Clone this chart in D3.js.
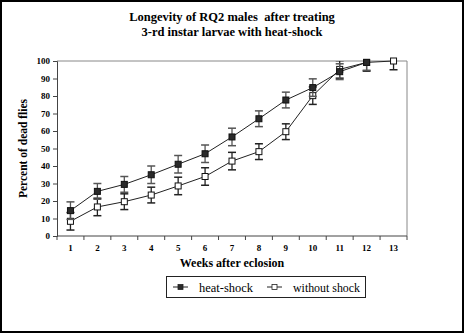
<!DOCTYPE html>
<html>
<head>
<meta charset="utf-8">
<script src="https://cdn.jsdelivr.net/npm/d3@7"></script>
<style>
  body { margin: 0; background: #fff; }
  text { font-family: "Liberation Serif", "Times New Roman", serif; }
</style>
</head>
<body>
<div id="chart"></div>
<script>
var weeks = [1, 2, 3, 4, 5, 6, 7, 8, 9, 10, 11, 12, 13];
var heatShock = [14.5, 25.5, 29.5, 35, 41, 47, 56.6, 67, 77.7, 84.8, 93.9, 99.2];
var heatShockErr = [5, 4.5, 4.5, 5, 5, 5, 5, 4.5, 4.5, 5, 4.5, 4.5];
var withoutShock = [8.4, 16.6, 19.6, 23.4, 28.6, 34, 42.8, 48.2, 59.6, 80.2, 95.2, 99.2, 100];
var withoutShockErr = [5, 5, 4.5, 4.5, 5, 5, 5, 4.5, 4.5, 5, 5, 5, 5];
var yTicks = [0, 10, 20, 30, 40, 50, 60, 70, 80, 90, 100];

var width = 464, height = 333;
var margin = {left: 57, top: 61, right: 57, bottom: 97};

var svg = d3.select("#chart").append("svg")
    .attr("width", width).attr("height", height);

// outer frame
svg.append("rect")
    .attr("x", 1).attr("y", 1).attr("width", width - 2).attr("height", height - 2)
    .attr("fill", "#fff").attr("stroke", "#000").attr("stroke-width", 2);

var x = d3.scaleBand().domain(weeks).range([margin.left, width - margin.right]);
var y = d3.scaleLinear().domain([0, 100]).range([height - margin.bottom, margin.top]);

function cx(d, i) { return x(weeks[i]) + x.bandwidth() / 2; }

// title
var title = ["Longevity of RQ2 males  after treating", "3-rd instar larvae with heat-shock"];
svg.selectAll(".title").data(title).enter().append("text")
    .attr("x", 232).attr("y", function(d, i) { return 21 + i * 15; })
    .attr("text-anchor", "middle")
    .attr("font-size", "12.5px").attr("font-weight", "bold")
    .style("white-space", "pre")
    .text(function(d) { return d; });

// plot frame top/right
svg.append("path")
    .attr("d", "M" + margin.left + "," + y(100) + "H" + (width - margin.right) + "V" + y(0))
    .attr("fill", "none").attr("stroke", "#888").attr("stroke-width", 1);

// y axis
var yAxis = svg.append("g")
    .attr("transform", "translate(" + margin.left + ",0)")
    .call(d3.axisLeft(y).tickValues(yTicks).tickSize(4).tickPadding(3));
yAxis.selectAll("text").attr("font-size", "9px").attr("font-weight", "bold")
    .attr("font-family", "Liberation Serif").attr("fill", "#000");
yAxis.selectAll("line,path").attr("stroke", "#444");

// x axis: ticks between bands
var bottom = y(0);
svg.append("line")
    .attr("x1", margin.left).attr("x2", width - margin.right)
    .attr("y1", bottom).attr("y2", bottom).attr("stroke", "#444");
var bounds = weeks.map(function(w) { return x(w); }).concat([x(13) + x.bandwidth()]);
svg.selectAll(".xtick").data(bounds).enter().append("line")
    .attr("x1", function(d) { return d; }).attr("x2", function(d) { return d; })
    .attr("y1", bottom).attr("y2", bottom + 4).attr("stroke", "#444");
svg.selectAll(".xlab").data(weeks).enter().append("text")
    .attr("x", function(d) { return x(d) + x.bandwidth() / 2; })
    .attr("y", bottom + 15)
    .attr("text-anchor", "middle").attr("font-size", "9px").attr("font-weight", "bold")
    .text(function(d) { return d; });

// axis titles
svg.append("text")
    .attr("x", 232).attr("y", 267)
    .attr("text-anchor", "middle").attr("font-size", "12px").attr("font-weight", "bold")
    .text("Weeks after eclosion");
svg.append("text")
    .attr("transform", "translate(27," + ((y(0) + y(100)) / 2) + ") rotate(-90)")
    .attr("text-anchor", "middle").attr("font-size", "11.5px").attr("font-weight", "bold")
    .text("Percent of dead flies");

// clip for error bars
svg.append("clipPath").attr("id", "plotclip").append("rect")
    .attr("x", margin.left).attr("y", y(100))
    .attr("width", width - margin.left - margin.right).attr("height", y(0) - y(100));

function drawSeries(vals, errs, fill, errColor) {
    var g = svg.append("g");
    var line = d3.line().x(cx).y(function(d) { return y(d); });
    g.append("path").datum(vals).attr("d", line)
        .attr("fill", "none").attr("stroke", "#222").attr("stroke-width", 1);
    var eb = g.append("g").attr("clip-path", "url(#plotclip)");
    vals.forEach(function(v, i) {
        var xx = cx(v, i), top = y(v + errs[i]), bot = y(v - errs[i]);
        eb.append("line").attr("x1", xx).attr("x2", xx).attr("y1", top).attr("y2", bot)
            .attr("stroke", errColor).attr("stroke-width", 1.3);
        [top, bot].forEach(function(yy) {
            eb.append("line").attr("x1", xx - 4).attr("x2", xx + 4).attr("y1", yy).attr("y2", yy)
                .attr("stroke", errColor).attr("stroke-width", 1.5);
        });
    });
    g.selectAll("rect").data(vals).enter().append("rect")
        .attr("x", function(d, i) { return cx(d, i) - 3; })
        .attr("y", function(d) { return y(d) - 3; })
        .attr("width", 6).attr("height", 6)
        .attr("fill", fill).attr("stroke", "#111").attr("stroke-width", 1);
}

drawSeries(withoutShock, withoutShockErr, "#fff", "#222");
drawSeries(heatShock, heatShockErr, "#2a2a2a", "#555");

// legend
var lg = svg.append("g");
lg.append("rect").attr("x", 166.5).attr("y", 276.5).attr("width", 199).attr("height", 21)
    .attr("fill", "#fff").attr("stroke", "#222").attr("stroke-width", 1);
var items = [{label: "heat-shock", fill: "#2a2a2a", x0: 173, w: 54}, {label: "without shock", fill: "#fff", x0: 267, w: 67}];
items.forEach(function(it) {
    lg.append("line").attr("x1", it.x0).attr("x2", it.x0 + 15).attr("y1", 287).attr("y2", 287)
        .attr("stroke", "#222");
    lg.append("rect").attr("x", it.x0 + 5).attr("y", 284.5).attr("width", 5).attr("height", 5)
        .attr("fill", it.fill).attr("stroke", "#222").attr("stroke-width", 0.8);
    lg.append("text").attr("x", it.x0 + 26).attr("y", 291.5)
        .attr("font-size", "13px").attr("textLength", it.w).attr("lengthAdjust", "spacingAndGlyphs")
        .text(it.label);
});
</script>
</body>
</html>
